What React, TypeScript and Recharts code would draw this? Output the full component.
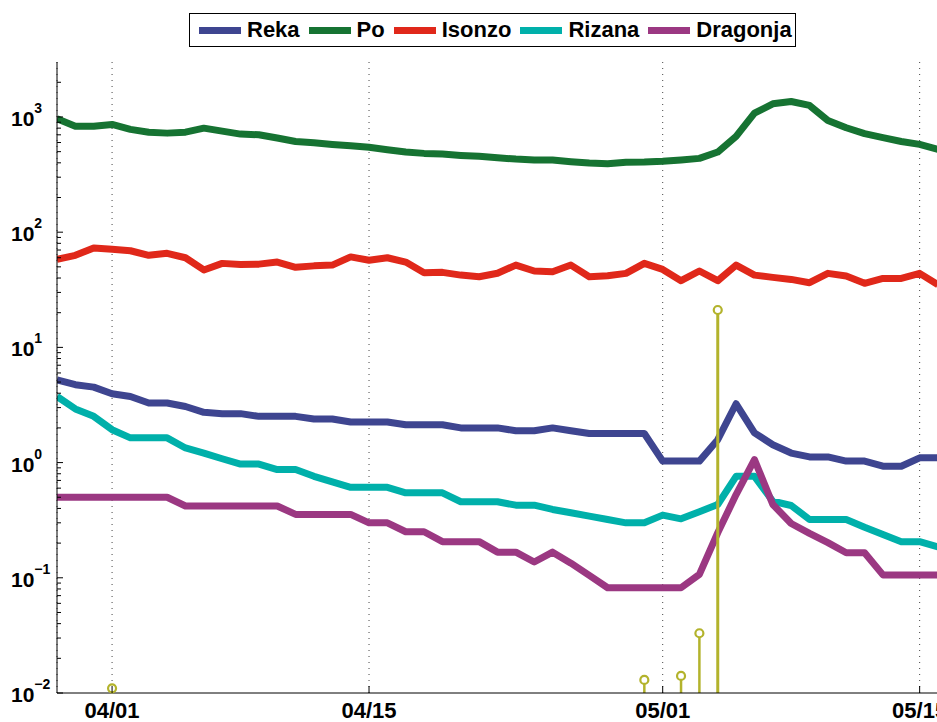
import React from 'react';
import { ComposedChart, Line, XAxis, YAxis, CartesianGrid, Scatter, ReferenceLine } from 'recharts';

// day offset relative to 04/01 (0 = 04/01, 14 = 04/15, 30 = 05/01, 44 = 05/15)
const days = [-3, -2, -1, 0, 1, 2, 3, 4, 5, 6, 7, 8, 9, 10, 11, 12, 13, 14, 15, 16, 17, 18, 19, 20, 21, 22, 23, 24, 25, 26, 27, 28, 29, 30, 31, 32, 33, 34, 35, 36, 37, 38, 39, 40, 41, 42, 43, 44, 45];

const xTicks = [0, 14, 30, 44];
const xTickLabels = ['04/01', '04/15', '05/01', '05/15'];

const reka = [5.23, 4.74, 4.52, 3.96, 3.75, 3.29, 3.29, 3.07, 2.73, 2.66, 2.66, 2.52, 2.52, 2.52, 2.39, 2.39, 2.25, 2.25, 2.25, 2.13, 2.13, 2.13, 2.0, 2.0, 2.0, 1.89, 1.89, 2.0, 1.89, 1.79, 1.79, 1.79, 1.79, 1.03, 1.03, 1.03, 1.58, 3.24, 1.81, 1.43, 1.21, 1.12, 1.12, 1.03, 1.03, 0.93, 0.93, 1.1, 1.1];
const po = [965, 832, 832, 861, 780, 738, 724, 738, 800, 753, 710, 701, 656, 613, 598, 578, 563, 545, 520, 496, 483, 476, 464, 455, 443, 431, 423, 423, 409, 398, 393, 404, 406, 412, 423, 437, 496, 678, 1079, 1300, 1362, 1259, 933, 806, 716, 661, 613, 578, 523];
const isonzo = [58, 63, 73, 71, 69, 63, 65.5, 60, 47, 53.6, 52.5, 52.8, 55, 49.5, 51, 51.8, 61, 57, 60, 55, 44.5, 44.8, 42.4, 41, 44, 51.8, 46, 45.3, 51.8, 41, 41.9, 43.9, 53.6, 47.5, 37.9, 46, 37.9, 51.8, 42.4, 40.5, 38.9, 36.4, 43.9, 41.6, 36, 39.7, 39.7, 43.9, 35];
const rizana = [3.75, 2.92, 2.52, 1.93, 1.64, 1.64, 1.64, 1.34, 1.21, 1.08, 0.97, 0.97, 0.87, 0.87, 0.76, 0.68, 0.61, 0.61, 0.61, 0.546, 0.546, 0.546, 0.457, 0.457, 0.457, 0.427, 0.427, 0.392, 0.367, 0.343, 0.321, 0.3, 0.3, 0.35, 0.325, 0.374, 0.433, 0.76, 0.76, 0.462, 0.424, 0.321, 0.321, 0.321, 0.275, 0.238, 0.206, 0.206, 0.185];
const dragonja = [0.5, 0.5, 0.5, 0.5, 0.5, 0.5, 0.5, 0.42, 0.42, 0.42, 0.42, 0.42, 0.42, 0.355, 0.355, 0.355, 0.355, 0.3, 0.3, 0.251, 0.251, 0.206, 0.206, 0.206, 0.167, 0.167, 0.137, 0.167, 0.134, 0.105, 0.082, 0.082, 0.082, 0.082, 0.082, 0.107, 0.246, 0.528, 1.06, 0.433, 0.296, 0.243, 0.202, 0.165, 0.165, 0.106, 0.106, 0.106, 0.106];

// stem series (right axis, linear 0..3)
const stemDays = [0, 29, 31, 32, 33];
const stemValues = [0.022, 0.062, 0.081, 0.284, 1.821];
const rightTicks = [1, 2, 3];

const seriesNames = ['Reka', 'Po', 'Isonzo', 'Rizana', 'Dragonja'];
const seriesColors = ['#3e4590', '#167332', '#e0281a', '#00b0aa', '#9b3882'];
const seriesValues = [reka, po, isonzo, rizana, dragonja];
const OLIVE = '#b3b32c';
const FONT = '"Liberation Sans", Arial, Helvetica, sans-serif';

const data = days.map((d, i) => {
  const row: any = { day: d };
  seriesNames.forEach((n, j) => { row[n] = seriesValues[j][i]; });
  return row;
});
const stemData = stemDays.map((d, i) => ({ day: d, rain: stemValues[i] }));

const yTicks: number[] = [];
for (let e = -2; e <= 3; e++) {
  for (let m = 1; m <= 9; m++) {
    const v = Number((m * Math.pow(10, e)).toPrecision(3));
    if (v <= 2000) yTicks.push(v);
  }
}

const YTick = (props: any) => {
  const { x, y, payload } = props;
  const v = payload.value;
  const lg = Math.log10(v);
  const major = Math.abs(lg - Math.round(lg)) < 1e-6;
  const e = Math.round(lg);
  return (
    <g>
      <line x1={x} x2={x + (major ? 6 : 4)} y1={y} y2={y} stroke="#000" strokeWidth={1} />
      {major && (
        <text x={x - 46} y={y + 9} textAnchor="start" fontFamily={FONT} fontWeight="bold" fontSize={21} fill="#000">
          <tspan>10</tspan>
          <tspan dy={-13} fontSize={14}>{e < 0 ? '\u2212' + Math.abs(e) : String(e)}</tspan>
        </text>
      )}
    </g>
  );
};

const XTick = (props: any) => {
  const { x, y, payload } = props;
  const idx = xTicks.indexOf(payload.value);
  return (
    <g>
      <line x1={x} x2={x} y1={y} y2={y - 7} stroke="#000" strokeWidth={1} />
      <text x={x} y={y + 25} textAnchor="middle" fontFamily={FONT} fontWeight="bold" fontSize={22} fill="#000">
        {idx >= 0 ? xTickLabels[idx] : ''}
      </text>
    </g>
  );
};

const RTick = (props: any) => {
  const { x, y } = props;
  return <line x1={x - 7} x2={x} y1={y} y2={y} stroke={OLIVE} strokeWidth={1.5} />;
};

const StemDot = (p: any) => (
  <circle cx={p.cx} cy={p.cy} r={4} fill="#fff" stroke={OLIVE} strokeWidth={2.2} />
);

export default function App() {
  return (
    <div style={{ position: 'absolute', left: 0, top: 0, width: 937, height: 722, overflow: 'hidden', background: '#fff' }}>
      <ComposedChart width={945} height={722} data={data} margin={{ top: 62, right: 7, bottom: 0, left: 0 }}>
        <CartesianGrid vertical horizontal={false} stroke="#444" strokeDasharray="1 5" />
        <XAxis
          dataKey="day"
          type="number"
          domain={[-3, 45]}
          ticks={xTicks}
          interval={0}
          allowDataOverflow
          height={29}
          tickSize={0}
          tickMargin={0}
          tickLine={false}
          axisLine={{ stroke: '#000', strokeWidth: 1 }}
          tick={<XTick />}
        />
        <YAxis
          yAxisId="left"
          scale="log"
          type="number"
          domain={[0.01, 3000]}
          ticks={yTicks}
          interval={0}
          allowDataOverflow
          width={57}
          tickSize={0}
          tickMargin={0}
          tickLine={false}
          axisLine={{ stroke: '#000', strokeWidth: 1 }}
          tick={<YTick />}
        />
        <YAxis
          yAxisId="right"
          orientation="right"
          type="number"
          domain={[0, 3]}
          ticks={rightTicks}
          interval={0}
          width={0}
          tickSize={0}
          tickMargin={0}
          tickLine={false}
          axisLine={false}
          tick={<RTick />}
        />
        {seriesNames.map((n, j) => (
          <Line
            key={n}
            yAxisId="left"
            type="linear"
            dataKey={n}
            stroke={seriesColors[j]}
            strokeWidth={7}
            strokeLinejoin="round"
            dot={false}
            activeDot={false}
            isAnimationActive={false}
          />
        ))}
        {stemDays.map((d, i) => (
          <ReferenceLine
            key={'stem' + d}
            yAxisId="right"
            segment={[{ x: d, y: 0 }, { x: d, y: stemValues[i] }]}
            stroke={OLIVE}
            strokeWidth={i === stemDays.length - 1 ? 3 : 2.5}
          />
        ))}
        <Scatter yAxisId="right" data={stemData} dataKey="rain" shape={<StemDot />} isAnimationActive={false} />
      </ComposedChart>
      <div
        style={{
          position: 'absolute', left: 189, top: 13, height: 34, boxSizing: 'border-box',
          border: '1.5px solid #000', background: '#fff', display: 'flex', alignItems: 'center',
          paddingLeft: 9, paddingRight: 3, fontFamily: FONT, fontWeight: 'bold', fontSize: 22, color: '#000'
        }}
      >
        {seriesNames.map((n, j) => (
          <div key={n} style={{ display: 'flex', alignItems: 'center', marginRight: j < seriesNames.length - 1 ? 9 : 0 }}>
            <div style={{ width: 42, height: 7, background: seriesColors[j], marginRight: 6 }} />
            <span style={{ lineHeight: '30px' }}>{n}</span>
          </div>
        ))}
      </div>
    </div>
  );
}
